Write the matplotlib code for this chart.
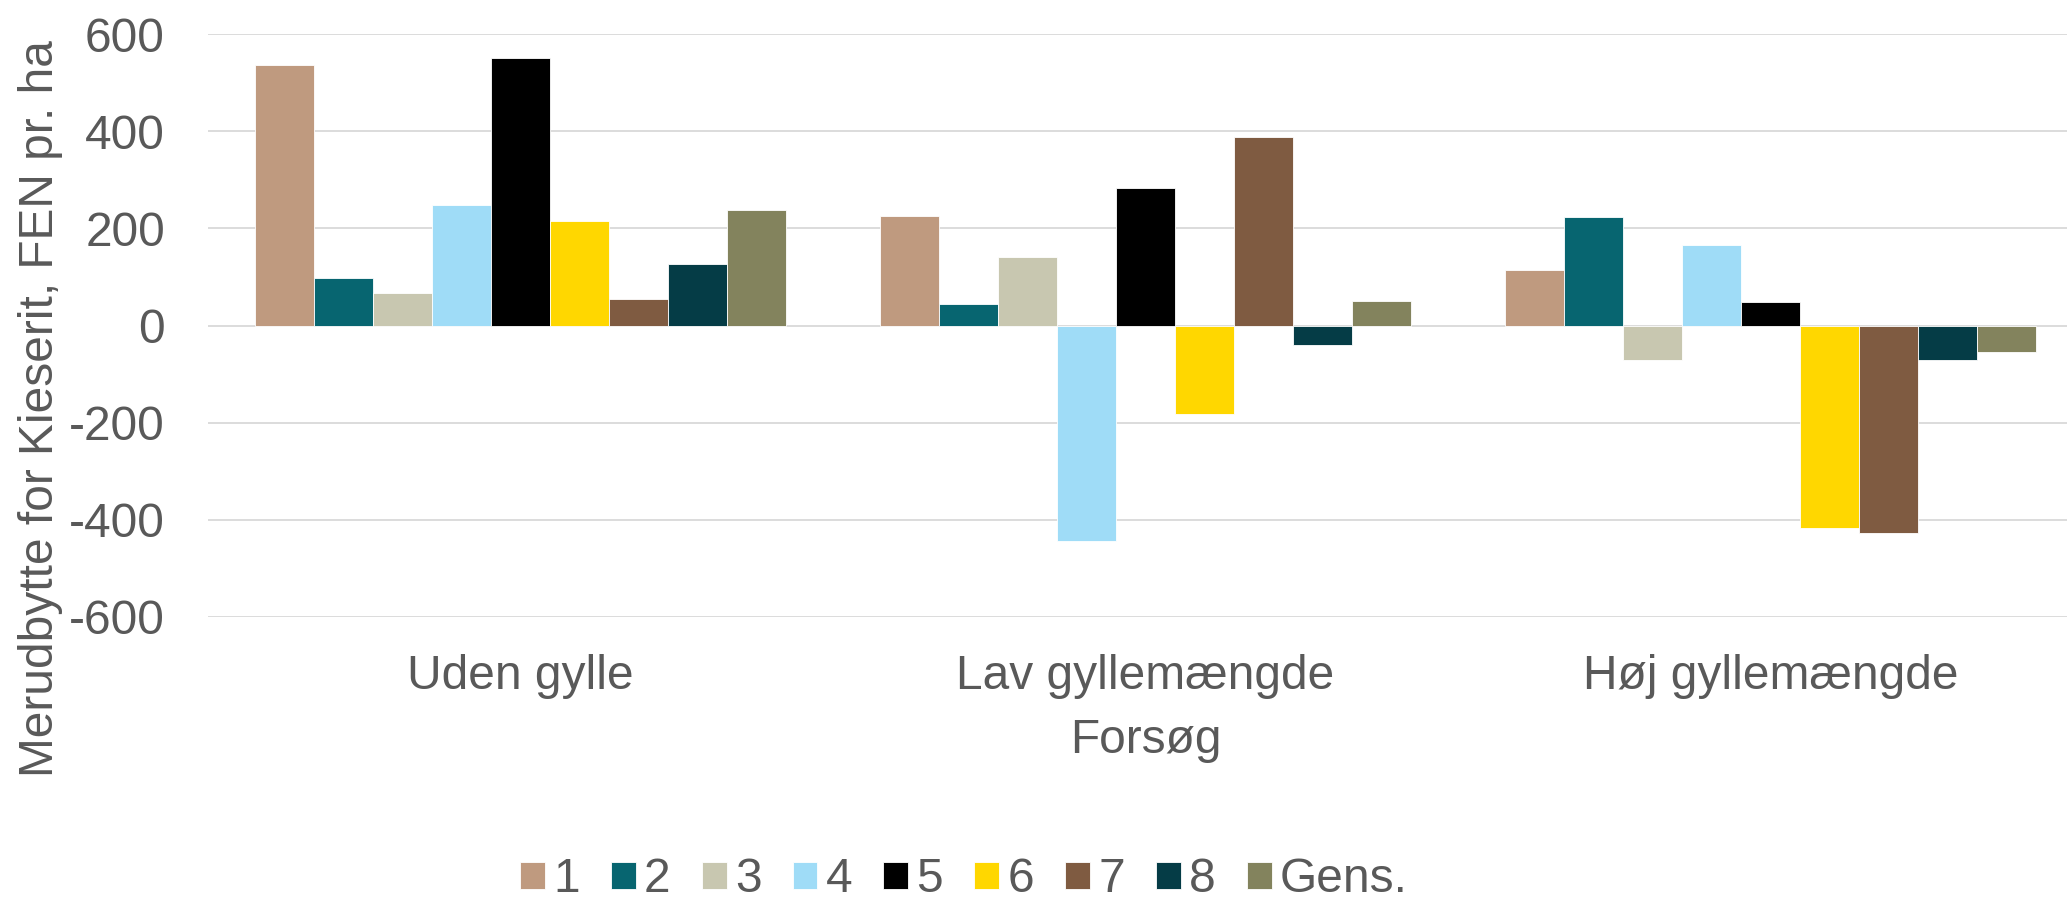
import matplotlib
matplotlib.use("Agg")
import matplotlib.pyplot as plt
import numpy as np

categories = ["Uden gylle", "Lav gyllemængde", "Høj gyllemængde"]
series_names = ["1", "2", "3", "4", "5", "6", "7", "8", "Gens."]
values = {
    "1": [537, 226, 114],
    "2": [98, 44, 223],
    "3": [67, 142, -72],
    "4": [249, -443, 166],
    "5": [550, 283, 48],
    "6": [216, -182, -417],
    "7": [55, 389, -427],
    "8": [127, -40, -72],
    "Gens.": [238, 51, -55],
}
colors = ["#BF9A7F", "#076570", "#C8C7B0", "#9FDCF7", "#000000",
          "#FFD700", "#7F5B41", "#053C46", "#83835D"]
yticks = [-600, -400, -200, 0, 200, 400, 600]

plt.rcParams['font.family'] = ['Liberation Sans', 'DejaVu Sans']
TXT = "#595959"
FS = 34.5

W, H = 2067, 900
fig = plt.figure(figsize=(W / 100, H / 100), dpi=100)
left, right, top, bottom = 208, 2083, 34, 617
ax = fig.add_axes([left / W, 1 - bottom / H, (right - left) / W, (bottom - top) / H])

x = np.arange(len(categories))
n = len(series_names)
bw = 0.0944
for i, name in enumerate(series_names):
    offs = (i - (n - 1) / 2) * bw
    ax.bar(x + offs, values[name], width=bw, color=colors[i], label=name,
           edgecolor="white", linewidth=0.6, zorder=3)

ax.set_xlim(-0.5, 2.5)
ax.set_ylim(-600, 600)
ax.set_yticks(yticks)
ax.set_yticklabels([str(v) for v in yticks])
ax.yaxis.grid(True, color="#D9D9D9", linewidth=1.3, zorder=0)
ax.set_axisbelow(True)
for s in ax.spines.values():
    s.set_visible(False)
ax.tick_params(axis="y", length=0, pad=31, labelsize=FS, labelcolor=TXT)
ax.tick_params(axis="x", length=0, pad=26.5, labelsize=FS, labelcolor=TXT)
ax.set_xticks(x)
ax.set_xticklabels(categories)

fig.text(1146 / W, 1 - 753 / H, "Forsøg", ha="center", va="baseline",
         fontsize=FS, color=TXT)
fig.text(53 / W, 1 - 409 / H, "Merudbytte for Kieserit, FEN pr. ha",
         rotation=90, rotation_mode="anchor", ha="center", va="baseline",
         fontsize=FS, color=TXT)

leg = fig.legend(loc="center", bbox_to_anchor=(964 / W, 1 - 880 / H),
                 ncol=n, frameon=False, fontsize=FS, handlelength=0.52,
                 handleheight=0.52, handletextpad=0.17, columnspacing=0.65,
                 borderaxespad=0, borderpad=0)
for t in leg.get_texts():
    t.set_color(TXT)

fig.savefig("out.png", dpi=100)
